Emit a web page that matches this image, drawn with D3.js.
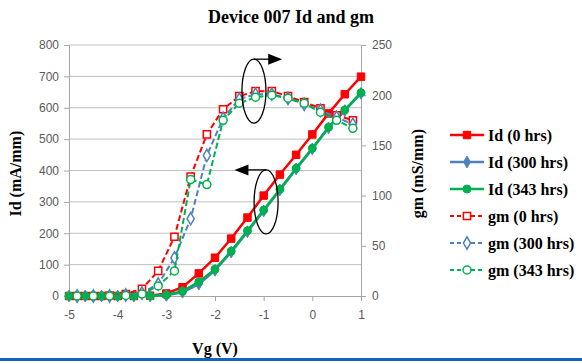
<!DOCTYPE html>
<html>
<head>
<meta charset="utf-8">
<script src="https://cdn.jsdelivr.net/npm/d3@7"></script>
<style>
  body { margin: 0; background: #fff; }
  svg { display: block; }
  .tick text { font-family: "Liberation Sans", Arial, sans-serif; font-size: 12px; fill: #595959; }
  .ttl { font-family: "Liberation Serif", "Times New Roman", serif; font-weight: bold; fill: #000; }
</style>
</head>
<body>
<script>
// Vg steps of 1/3 V from -5 to 1 (Id), gm sits half a step in between
var vgId = [-5, -4.667, -4.333, -4, -3.667, -3.333, -3, -2.667, -2.333, -2,
            -1.667, -1.333, -1, -0.667, -0.333, 0, 0.333, 0.667, 1];
var vgGm = [-4.833, -4.5, -4.167, -3.833, -3.5, -3.167, -2.833, -2.5, -2.167,
            -1.833, -1.5, -1.167, -0.833, -0.5, -0.167, 0.167, 0.5, 0.833];

// Id (mA/mm)
var id0   = [0, 0, 0, 0, 0, 1, 8, 28, 72, 122, 183, 250, 320, 387, 450, 515, 582, 643, 699];
var id300 = [0, 0, 0, 0, 0, 0, 2, 12, 38, 82, 140, 205, 271, 338, 405, 469, 536, 591, 646];
var id343 = [0, 0, 0, 0, 0, 0, 3, 15, 45, 85, 143, 208, 274, 340, 407, 471, 538, 593, 648];

// gm (mS/mm)
var gm0   = [0, 0, 0.5, 2, 7, 25, 59, 119, 161, 186, 199, 204, 204, 199, 193, 187, 180, 175];
var gm300 = [0, 0, 0, 1, 3, 12, 38, 77, 140, 177, 196, 201, 201, 197, 191, 185, 178, 171];
var gm343 = [0, 0, 0, 0.5, 2, 10, 25, 116, 111, 175, 192, 198, 200, 197, 192, 183, 175, 167];

var xTicks = [-5, -4, -3, -2, -1, 0, 1];
var yLTicks = [0, 100, 200, 300, 400, 500, 600, 700, 800];
var yRTicks = [0, 50, 100, 150, 200, 250];

var W = 582, H = 364;
var svg = d3.select("body").append("svg").attr("width", W).attr("height", H);

var x = d3.scaleLinear().domain([-5, 1]).range([69, 361]);
var yL = d3.scaleLinear().domain([0, 800]).range([296, 45]);
var yR = d3.scaleLinear().domain([0, 250]).range([296, 45]);

// gridlines
svg.append("g").selectAll("line").data(yLTicks.slice(1)).join("line")
  .attr("x1", x(-5)).attr("x2", x(1))
  .attr("y1", d => yL(d)).attr("y2", d => yL(d))
  .attr("stroke", "#bfbfbf").attr("stroke-width", 1);

// axes
var axL = svg.append("g").attr("transform", "translate(" + x(-5) + ",0)")
  .call(d3.axisLeft(yL).tickValues(yLTicks).tickSize(5).tickPadding(5));
var axR = svg.append("g").attr("transform", "translate(" + x(1) + ",0)")
  .call(d3.axisRight(yR).tickValues(yRTicks).tickSize(5).tickPadding(6));
var axB = svg.append("g").attr("transform", "translate(0," + yL(0) + ")")
  .call(d3.axisBottom(x).tickValues(xTicks).tickFormat(d3.format("d")).tickSize(5).tickPadding(9));
[axL, axR, axB].forEach(function(a) {
  a.select(".domain").attr("stroke", "#a6a6a6");
  a.selectAll(".tick line").attr("stroke", "#a6a6a6");
  a.selectAll(".tick text").attr("fill", "#595959");
});
axB.selectAll(".tick text").text(d => d < 0 ? "-" + Math.abs(d) : d);

// series
var series = [
  {name: "Id (0 hrs)",   xs: vgId, ys: id0,   sc: yL, color: "#ff0000", sym: d3.symbolSquare,  size: 56, fill: true,  dash: null},
  {name: "Id (300 hrs)", xs: vgId, ys: id300, sc: yL, color: "#4f81bd", sym: d3.symbolDiamond, size: 40, fill: true,  dash: null},
  {name: "Id (343 hrs)", xs: vgId, ys: id343, sc: yL, color: "#00b050", sym: d3.symbolCircle,  size: 50, fill: true,  dash: null},
  {name: "gm (0 hrs)",   xs: vgGm, ys: gm0,   sc: yR, color: "#ff0000", sym: d3.symbolSquare,  size: 52, fill: false, dash: "6,3"},
  {name: "gm (300 hrs)", xs: vgGm, ys: gm300, sc: yR, color: "#4f81bd", sym: d3.symbolDiamond, size: 44, fill: false, dash: "6,3"},
  {name: "gm (343 hrs)", xs: vgGm, ys: gm343, sc: yR, color: "#00b050", sym: d3.symbolCircle,  size: 50, fill: false, dash: "6,3"}
];

var line = d3.line();
series.forEach(function(s) {
  var pts = s.xs.map((v, i) => [x(v), s.sc(s.ys[i])]);
  var g = svg.append("g");
  g.append("path").attr("d", line(pts))
    .attr("fill", "none").attr("stroke", s.color)
    .attr("stroke-width", s.fill ? 2.5 : 2)
    .attr("stroke-dasharray", s.dash);
  g.selectAll("path.m").data(pts).join("path").attr("class", "m")
    .attr("transform", d => "translate(" + d[0] + "," + d[1] + ")")
    .attr("d", d3.symbol().type(s.sym).size(s.size))
    .attr("fill", s.fill ? s.color : "#fff")
    .attr("stroke", s.color).attr("stroke-width", s.fill ? 1 : 1.5);
});

// annotation ellipses with arrows
function note(cx, cy, toX) {
  var g = svg.append("g");
  g.append("ellipse").attr("cx", cx).attr("cy", cy).attr("rx", 12).attr("ry", 32)
    .attr("fill", "none").attr("stroke", "#000").attr("stroke-width", 1.3);
  var top = cy - 32;
  var dir = toX > cx ? 1 : -1;
  g.append("line").attr("x1", cx).attr("y1", top).attr("x2", toX - dir * 10).attr("y2", top)
    .attr("stroke", "#000").attr("stroke-width", 1.3);
  g.append("path")
    .attr("d", "M" + toX + "," + top + "L" + (toX - dir * 14) + "," + (top - 5.5) + "L" + (toX - dir * 14) + "," + (top + 5.5) + "Z")
    .attr("fill", "#000");
}
note(x(-1.2), yR(204), x(-0.62));
note(x(-0.95), yL(300), x(-1.6));

// titles
svg.append("text").attr("class", "ttl").attr("x", 291).attr("y", 23)
  .attr("text-anchor", "middle").style("font-size", "18px").text("Device 007 Id and gm");
svg.append("text").attr("class", "ttl").attr("x", (x(-5) + x(1)) / 2).attr("y", 354)
  .attr("text-anchor", "middle").style("font-size", "16px").text("Vg (V)");
svg.append("text").attr("class", "ttl")
  .attr("transform", "translate(21," + yL(390) + ") rotate(-90)")
  .attr("text-anchor", "middle").style("font-size", "16px").text("Id (mA/mm)");
svg.append("text").attr("class", "ttl")
  .attr("transform", "translate(423," + yL(390) + ") rotate(-90)")
  .attr("text-anchor", "middle").style("font-size", "16px").text("gm (mS/mm)");

// legend
var lg = svg.append("g");
series.forEach(function(s, i) {
  var yy = 135 + i * 27;
  lg.append("line").attr("x1", 450).attr("x2", 484).attr("y1", yy).attr("y2", yy)
    .attr("stroke", s.color).attr("stroke-width", s.fill ? 2.5 : 2).attr("stroke-dasharray", s.dash ? "4,3" : null);
  lg.append("path").attr("transform", "translate(467," + yy + ")")
    .attr("d", d3.symbol().type(s.sym).size(s.size))
    .attr("fill", s.fill ? s.color : "#fff").attr("stroke", s.color).attr("stroke-width", s.fill ? 1 : 1.5);
  lg.append("text").attr("class", "ttl").attr("x", 488).attr("y", yy + 5.5)
    .style("font-size", "16px").text(s.name);
});

// blue rule at the bottom of the slide
svg.append("rect").attr("x", 0).attr("y", 358).attr("width", W).attr("height", 3).attr("fill", "#1565c0");
</script>
</body>
</html>
